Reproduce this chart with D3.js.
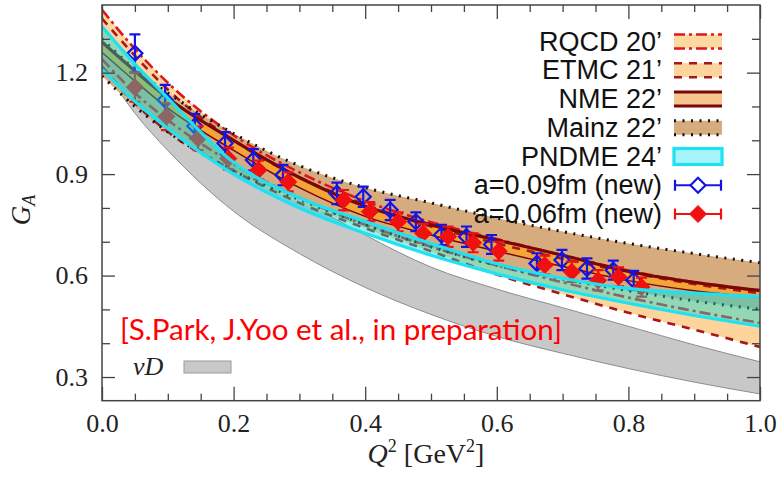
<!DOCTYPE html>
<html>
<head>
<meta charset="utf-8">
<script src="https://cdn.jsdelivr.net/npm/d3@7"></script>
<style>
  body { margin: 0; background: #fff; }
</style>
</head>
<body>
<div id="chart"></div>
<script>
var qGrid = [0, 0.05, 0.1, 0.2, 0.3, 0.4, 0.5, 0.6, 0.7, 0.8, 0.9, 1.0];

// band edges (upper / lower) for each result
var nuDUp    = [1.275, 1.19, 1.11, 0.97, 0.83, 0.72, 0.625, 0.56, 0.505, 0.45, 0.395, 0.345];
var nuDLo    = [1.22, 1.08, 0.97, 0.79, 0.665, 0.565, 0.485, 0.42, 0.37, 0.325, 0.285, 0.25];
var rqcdUp   = [1.386, 1.27, 1.17, 1.015, 0.905, 0.82, 0.758, 0.708, 0.66, 0.615, 0.58, 0.555];
var rqcdLo   = [1.24, 1.14, 1.06, 0.93, 0.83, 0.75, 0.685, 0.63, 0.58, 0.535, 0.495, 0.46];
var etmcUp   = [1.36, 1.25, 1.15, 1.0, 0.89, 0.81, 0.745, 0.695, 0.65, 0.61, 0.575, 0.548];
var etmcLo   = [1.218, 1.11, 1.025, 0.91, 0.815, 0.74, 0.672, 0.603, 0.545, 0.49, 0.44, 0.389];
var mainzUp  = [1.30, 1.21, 1.14, 1.02, 0.925, 0.86, 0.815, 0.77, 0.73, 0.695, 0.665, 0.638];
var mainzLo  = [1.19, 1.10, 1.025, 0.91, 0.825, 0.75, 0.685, 0.63, 0.59, 0.555, 0.525, 0.50];
var nmeUp    = [1.29, 1.205, 1.125, 1.0, 0.89, 0.805, 0.75, 0.705, 0.66, 0.612, 0.58, 0.556];
var nmeLo    = [1.26, 1.175, 1.095, 0.97, 0.86, 0.775, 0.72, 0.672, 0.627, 0.585, 0.555, 0.535];
var pndmeUp  = [1.336, 1.225, 1.125, 0.935, 0.83, 0.76, 0.695, 0.635, 0.592, 0.562, 0.548, 0.538];
var pndmeLo  = [1.21, 1.115, 1.035, 0.90, 0.80, 0.725, 0.66, 0.605, 0.558, 0.518, 0.482, 0.45];

// new lattice data, a=0.09fm
var blueQ   = [0.05, 0.096, 0.141, 0.187, 0.23, 0.275, 0.357, 0.397, 0.438, 0.477, 0.516, 0.554, 0.592, 0.661, 0.699, 0.737, 0.777, 0.808];
var blueG   = [1.257, 1.119, 1.042, 0.991, 0.942, 0.897, 0.843, 0.833, 0.794, 0.759, 0.72, 0.715, 0.692, 0.636, 0.646, 0.621, 0.616, 0.586];
var blueErr = [0.056, 0.045, 0.036, 0.033, 0.032, 0.03, 0.032, 0.03, 0.03, 0.028, 0.03, 0.03, 0.028, 0.03, 0.03, 0.03, 0.028, 0.028];
// new lattice data, a=0.06fm
var redQ    = [0.05, 0.098, 0.146, 0.192, 0.238, 0.283, 0.367, 0.407, 0.45, 0.488, 0.526, 0.564, 0.603, 0.673, 0.714, 0.754, 0.785, 0.82];
var redG    = [1.157, 1.07, 1.006, 0.946, 0.912, 0.877, 0.823, 0.789, 0.759, 0.725, 0.715, 0.697, 0.672, 0.631, 0.611, 0.586, 0.596, 0.566];
var redErr  = [0.043, 0.04, 0.035, 0.032, 0.028, 0.028, 0.03, 0.028, 0.028, 0.028, 0.03, 0.028, 0.028, 0.028, 0.03, 0.03, 0.028, 0.028];

// ticks
var xMajorTicks = [0, 0.2, 0.4, 0.6, 0.8, 1.0];
var xMinorTicks = [0.05, 0.1, 0.15, 0.25, 0.3, 0.35, 0.45, 0.5, 0.55, 0.65, 0.7, 0.75, 0.85, 0.9, 0.95];
var yMajorTicks = [0.3, 0.6, 0.9, 1.2];
var yMinorTicks = [0.4, 0.5, 0.7, 0.8, 1.0, 1.1, 1.3];

var legendNames = ["RQCD 20’", "ETMC 21’", "NME 22’", "Mainz 22’", "PNDME 24’", "a=0.09fm (new)", "a=0.06fm (new)"];

var svgWidth = 777;
var svgHeight = 478;
var margin = { top: 5, right: 17, bottom: 77.3, left: 102 };
var width = svgWidth - margin.left - margin.right;
var height = svgHeight - margin.top - margin.bottom;

var svg = d3.select("#chart")
  .append("svg")
  .attr("width", svgWidth)
  .attr("height", svgHeight);

var chartGroup = svg.append("g")
  .attr("transform", `translate(${margin.left}, ${margin.top})`);

var xScale = d3.scaleLinear().domain([0, 1]).range([0, width]);
var yScale = d3.scaleLinear().domain([0.23, 1.4]).range([height, 0]);

chartGroup.append("clipPath").attr("id", "clip")
  .append("rect").attr("width", width).attr("height", height);

var plot = chartGroup.append("g").attr("clip-path", "url(#clip)");

function bandArea(up, lo) {
  return d3.area()
    .x((d, i) => xScale(qGrid[i]))
    .y0((d, i) => yScale(lo[i]))
    .y1((d, i) => yScale(up[i]))
    .curve(d3.curveMonotoneX)(qGrid);
}
function edgeLine(vals) {
  return d3.line()
    .x((d, i) => xScale(qGrid[i]))
    .y((d, i) => yScale(vals[i]))
    .curve(d3.curveMonotoneX)(qGrid);
}

// nu D band
plot.append("path").attr("d", bandArea(nuDUp, nuDLo))
  .attr("fill", "#c8c8c8").attr("stroke", "none");
[nuDUp, nuDLo].forEach(v => plot.append("path").attr("d", edgeLine(v))
  .attr("fill", "none").attr("stroke", "#8c8c8c").attr("stroke-width", 1));

// lattice bands, fills first
plot.append("path").attr("d", bandArea(rqcdUp, rqcdLo)).attr("fill", "#fdd9a2");
plot.append("path").attr("d", bandArea(etmcUp, etmcLo)).attr("fill", "#fdd49c");
plot.append("path").attr("d", bandArea(mainzUp, mainzLo)).attr("fill", "#d6ab7d");
plot.append("path").attr("d", bandArea(nmeUp, nmeLo)).attr("fill", "#f3a538");

// band edges
[etmcUp, etmcLo].forEach(v => plot.append("path").attr("d", edgeLine(v))
  .attr("fill", "none").attr("stroke", "#a8161c").attr("stroke-width", 2.6)
  .attr("stroke-dasharray", "8,7"));
[rqcdUp, rqcdLo].forEach(v => plot.append("path").attr("d", edgeLine(v))
  .attr("fill", "none").attr("stroke", "#e0161c").attr("stroke-width", 2.6)
  .attr("stroke-dasharray", "11,4,3,4"));
[mainzUp, mainzLo].forEach(v => plot.append("path").attr("d", edgeLine(v))
  .attr("fill", "none").attr("stroke", "#111").attr("stroke-width", 3)
  .attr("stroke-dasharray", "2,6.5"));
[nmeUp, nmeLo].forEach((v, k) => plot.append("path").attr("d", edgeLine(v))
  .attr("fill", "none").attr("stroke", "#7a0606").attr("stroke-width", k == 0 ? 3.2 : 1.5));

// data points
function drawPoints(qs, gs, errs, color, filled, size) {
  var g = plot.append("g");
  qs.forEach(function (q, i) {
    var cx = xScale(q), cy = yScale(gs[i]);
    var yt = yScale(gs[i] + errs[i]), yb = yScale(gs[i] - errs[i]);
    g.append("line").attr("x1", cx).attr("x2", cx).attr("y1", yt).attr("y2", yb)
      .attr("stroke", color).attr("stroke-width", 2.2);
    [yt, yb].forEach(yy => g.append("line").attr("x1", cx - 5.5).attr("x2", cx + 5.5)
      .attr("y1", yy).attr("y2", yy).attr("stroke", color).attr("stroke-width", 2.2));
    g.append("path")
      .attr("d", `M${cx},${cy - size}L${cx + size},${cy}L${cx},${cy + size}L${cx - size},${cy}Z`)
      .attr("fill", filled ? color : "none")
      .attr("stroke", color).attr("stroke-width", filled ? 1 : 2.2);
  });
}
drawPoints(blueQ, blueG, blueErr, "#1414e6", false, 7.5);
drawPoints(redQ, redG, redErr, "#f01010", true, 8.5);

// PNDME band on top, translucent
plot.append("path").attr("d", bandArea(pndmeUp, pndmeLo))
  .attr("fill", "rgba(0, 222, 218, 0.42)");
[pndmeUp, pndmeLo].forEach(v => plot.append("path").attr("d", edgeLine(v))
  .attr("fill", "none").attr("stroke", "#1ee2f2").attr("stroke-width", 3.2));

// axes, ticks pointing inward on all four sides
var tickStyle = function (g) {
  g.select(".domain").remove();
  g.selectAll(".tick line").attr("stroke", "#444").attr("stroke-width", 1.3);
  g.selectAll("text").attr("font-family", "'Liberation Serif', serif")
    .attr("font-size", "26px").attr("fill", "#222");
};

chartGroup.append("g").attr("transform", `translate(0, ${height})`)
  .call(d3.axisBottom(xScale).tickValues(xMajorTicks).tickFormat(d3.format(".1f"))
    .tickSizeInner(-14).tickSizeOuter(0).tickPadding(13))
  .call(tickStyle);
chartGroup.append("g").attr("transform", `translate(0, ${height})`)
  .call(d3.axisBottom(xScale).tickValues(xMinorTicks).tickFormat("")
    .tickSizeInner(-7).tickSizeOuter(0))
  .call(tickStyle);
chartGroup.append("g")
  .call(d3.axisTop(xScale).tickValues(xMajorTicks).tickFormat("")
    .tickSizeInner(-14).tickSizeOuter(0))
  .call(tickStyle);
chartGroup.append("g")
  .call(d3.axisTop(xScale).tickValues(xMinorTicks).tickFormat("")
    .tickSizeInner(-7).tickSizeOuter(0))
  .call(tickStyle);
chartGroup.append("g")
  .call(d3.axisLeft(yScale).tickValues(yMajorTicks).tickFormat(d3.format(".1f"))
    .tickSizeInner(-13).tickSizeOuter(0).tickPadding(14))
  .call(tickStyle);
chartGroup.append("g")
  .call(d3.axisLeft(yScale).tickValues(yMinorTicks).tickFormat("")
    .tickSizeInner(-8).tickSizeOuter(0))
  .call(tickStyle);
chartGroup.append("g").attr("transform", `translate(${width}, 0)`)
  .call(d3.axisRight(yScale).tickValues(yMajorTicks).tickFormat("")
    .tickSizeInner(-13).tickSizeOuter(0))
  .call(tickStyle);
chartGroup.append("g").attr("transform", `translate(${width}, 0)`)
  .call(d3.axisRight(yScale).tickValues(yMinorTicks).tickFormat("")
    .tickSizeInner(-8).tickSizeOuter(0))
  .call(tickStyle);

chartGroup.append("rect").attr("width", width).attr("height", height)
  .attr("fill", "none").attr("stroke", "#444").attr("stroke-width", 1.5);

// axis labels
var yLab = svg.append("text")
  .attr("transform", "translate(30, 210) rotate(-90)")
  .attr("text-anchor", "middle")
  .attr("font-family", "'Liberation Serif', serif")
  .attr("font-size", "27px").attr("fill", "#222");
yLab.append("tspan").attr("font-style", "italic").text("G");
yLab.append("tspan").attr("font-style", "italic").attr("font-size", "18px").attr("dy", 5).text("A");

var xLab = svg.append("text")
  .attr("x", 426).attr("y", 463)
  .attr("text-anchor", "middle")
  .attr("font-family", "'Liberation Serif', serif")
  .attr("font-size", "28px").attr("fill", "#222");
xLab.append("tspan").attr("font-style", "italic").text("Q");
xLab.append("tspan").attr("font-size", "18px").attr("dy", -11).text("2");
xLab.append("tspan").attr("dy", 11).text(" [GeV");
xLab.append("tspan").attr("font-size", "18px").attr("dy", -11).text("2");
xLab.append("tspan").attr("dy", 11).text("]");

// legend
var legend = svg.append("g");
var rowY = d => 50.5 + d * 28.75;
legend.selectAll("text.lg").data(legendNames).enter().append("text")
  .attr("class", "lg")
  .attr("x", 662).attr("y", (d, i) => rowY(i))
  .attr("text-anchor", "end")
  .attr("font-family", "'Liberation Sans', Arial, sans-serif")
  .attr("font-size", "27px").attr("fill", "#111")
  .text(d => d);

var sx0 = 674, sx1 = 722, sh = 14;
function swatch(i, fill, stroke, sw, dash) {
  var top = rowY(i) - 16, bot = top + sh;
  legend.append("rect").attr("x", sx0).attr("y", top).attr("width", sx1 - sx0).attr("height", sh)
    .attr("fill", fill);
  [top, bot].forEach(yy => legend.append("line")
    .attr("x1", sx0).attr("x2", sx1).attr("y1", yy).attr("y2", yy)
    .attr("stroke", stroke).attr("stroke-width", sw).attr("stroke-dasharray", dash));
}
swatch(0, "#fdd9a2", "#e0161c", 2.6, "11,4,3,4");
swatch(1, "#fdd49c", "#a8161c", 2.6, "8,7");
swatch(2, "#f6c58e", "#7a0606", 3.2, null);
swatch(3, "#d6ab7d", "#111", 3, "2,6.5");
legend.append("rect").attr("x", sx0).attr("y", rowY(4) - 17).attr("width", sx1 - sx0).attr("height", sh + 2)
  .attr("fill", "#a6f4fa").attr("stroke", "#1ee2f2").attr("stroke-width", 3.2);

function legendPoint(i, color, filled, size) {
  var cy = rowY(i) - 9, cx = (sx0 + sx1) / 2;
  legend.append("line").attr("x1", sx0 + 1).attr("x2", sx1 - 1).attr("y1", cy).attr("y2", cy)
    .attr("stroke", color).attr("stroke-width", 2.2);
  [sx0 + 1, sx1 - 1].forEach(xx => legend.append("line")
    .attr("x1", xx).attr("x2", xx).attr("y1", cy - 5.5).attr("y2", cy + 5.5)
    .attr("stroke", color).attr("stroke-width", 2.2));
  legend.append("path")
    .attr("d", `M${cx},${cy - size}L${cx + size},${cy}L${cx},${cy + size}L${cx - size},${cy}Z`)
    .attr("fill", filled ? color : "#fff")
    .attr("stroke", color).attr("stroke-width", filled ? 1 : 2.2);
}
legendPoint(5, "#1414e6", false, 7.5);
legendPoint(6, "#f01010", true, 8.5);

// nu D key
svg.append("text")
  .attr("x", 133).attr("y", 375)
  .attr("font-family", "'Liberation Serif', serif")
  .attr("font-size", "26px").attr("font-style", "italic").attr("fill", "#222")
  .text("νD");
svg.append("rect").attr("x", 184).attr("y", 361).attr("width", 47).attr("height", 12)
  .attr("fill", "#c8c8c8").attr("stroke", "#9a9a9a").attr("stroke-width", 1);

// annotation
svg.append("text")
  .attr("x", 120).attr("y", 340)
  .attr("font-family", "Lato, 'Open Sans', sans-serif")
  .attr("font-size", "29px").attr("fill", "#ff0000")
  .attr("textLength", 442).attr("lengthAdjust", "spacingAndGlyphs")
  .text("[S.Park, J.Yoo et al., in preparation]");
</script>
</body>
</html>
